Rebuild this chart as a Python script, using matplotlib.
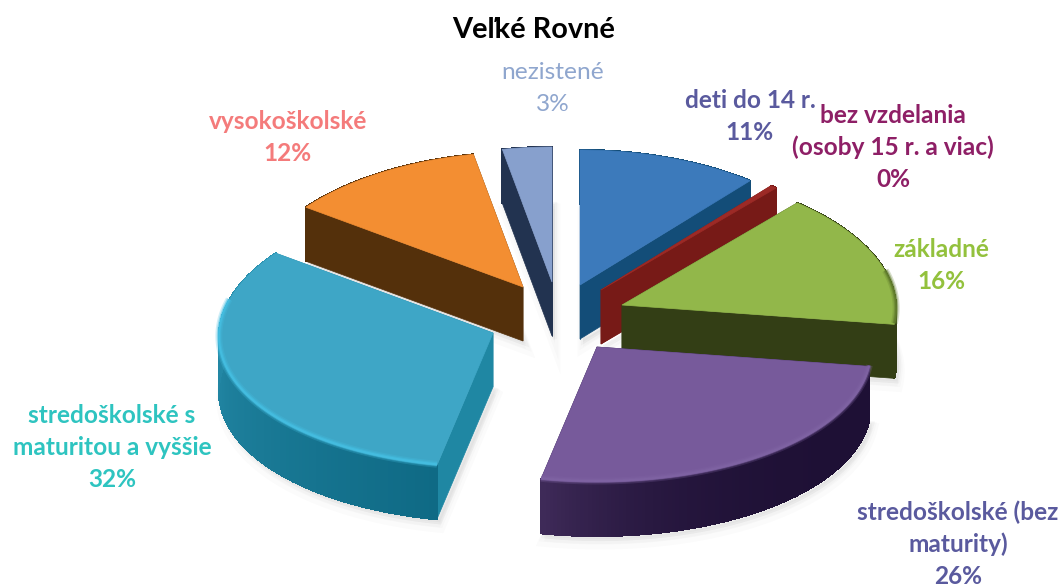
import numpy as np
import matplotlib
matplotlib.use('Agg')
import matplotlib.pyplot as plt
from matplotlib.collections import PolyCollection
from matplotlib.colors import to_rgb

plt.rcParams['font.family'] = ['Lato', 'DejaVu Sans']

title = 'Veľké Rovné'
names = ['deti do 14 r.', 'bez vzdelania\n(osoby 15 r. a viac)', 'základné',
         'stredoškolské (bez\nmaturity)', 'stredoškolské s\nmaturitou a vyššie',
         'vysokoškolské', 'nezistené']
shares = [11, 0.4, 16, 26, 32, 12, 3]

# colours of top, flat side, outer side (two ends), label
top_cols = ['#3c7abb', '#9c2a26', '#92b74a', '#775a9b', '#3ea6c6', '#f38e32', '#87a0cd']
side_cols = ['#134d78', '#771a17', '#333e15', '#2a1a45', '#1f87a3', '#54300b', '#223350']
arc_a = ['#134d78', '#771a17', '#333e15', '#1e1035', '#0f6a85', '#54300b', '#223350']
arc_b = ['#134d78', '#771a17', '#333e15', '#3e2a58', '#2a92b0', '#54300b', '#223350']
arc_pow = [1, 1, 1, 4, 1, 1, 1]
rim_cols = ['#3c7abb', '#c0504d', '#5f7a2c', '#7f63a3', '#45bfe2', '#f38e32', '#87a0cd']
text_cols = ['#5a5a9e', '#8e1f66', '#93c13d', '#5a5a9e', '#2ec4c0', '#f47b7b', '#8fa6ce']
# centre x and first baseline of each label
label_xy = [(750, 108), (893, 123), (941, 257), (958, 520), (112, 423), (288, 129), (553, 79)]
LINE_STEP = 32

# where each slice tip sits after exploding, in pixels
apex = [(580, 285), (601, 290), (622, 305), (597, 347), (493, 333), (523, 287), (552, 282)]
draw_order = [0, 1, 2, 5, 6, 4, 3]

RX, RY, DEPTH = 274, 135, 54

fig = plt.figure(figsize=(10.64, 5.86), dpi=100)
ax = fig.add_axes([0, 0, 1, 1])
ax.set_xlim(0, 1064)
ax.set_ylim(586, 0)
ax.axis('off')

edges = np.cumsum([0] + shares) / sum(shares) * 2 * np.pi


def outline(i, n=120):
    t = np.linspace(edges[i], edges[i + 1], n)
    # far side of the pie comes out a little narrower
    x = apex[i][0] + RX * np.sin(t) * (1 - 0.03 * np.cos(t))
    y = apex[i][1] - RY * np.cos(t)
    return t, x, y


# soft shadow below the pie
for i in draw_order:
    t, x, y = outline(i)
    px = np.r_[apex[i][0], x]
    py = np.r_[apex[i][1], y] + DEPTH
    for grow, al in [(8, 0.015), (5, 0.02), (3, 0.03)]:
        ax.fill(px + 3, py + grow, color='#303030', alpha=al, lw=grow, zorder=1)

for k, i in enumerate(draw_order):
    z = 2 + k
    t, x, y = outline(i)
    ax0, ay0 = apex[i]
    # flat sides
    for xe, ye in [(x[0], y[0]), (x[-1], y[-1])]:
        ax.fill([ax0, xe, xe, ax0], [ay0, ye, ye + DEPTH, ay0 + DEPTH],
                color=side_cols[i], lw=0.5, zorder=z)
    # outer side, shaded along the arc
    c0 = np.array(to_rgb(arc_a[i]))
    c1 = np.array(to_rgb(arc_b[i]))
    quads = []
    cols = []
    for j in range(len(t) - 1):
        quads.append([(x[j], y[j]), (x[j + 1], y[j + 1]),
                      (x[j + 1], y[j + 1] + DEPTH), (x[j], y[j] + DEPTH)])
        f = (j / (len(t) - 2)) ** arc_pow[i]
        cols.append(c0 + (c1 - c0) * f)
    ax.add_collection(PolyCollection(quads, facecolors=cols, edgecolors=cols, linewidths=0.8,
                                     antialiased=False, zorder=z))
    # top face and lit rim
    ax.fill(np.r_[ax0, x], np.r_[ay0, y], color=top_cols[i], lw=0.5, zorder=z)
    front = np.cos(t) < 0.25
    for w, al in [(5, 0.25), (3, 0.45), (1.5, 0.8)]:
        ax.plot(x[front], y[front] - 1, color=rim_cols[i], lw=w, alpha=al,
                solid_capstyle='butt', zorder=z)

ax.text(534, 30, title, fontsize=20.8, fontweight='bold', color='black',
        ha='center', va='center', zorder=20)

# one text per line so the line step follows the reference
for i, name in enumerate(names):
    lines = name.split('\n') + [f'{round(shares[i])}%']
    weight = 'normal' if i == 6 else 'bold'
    for n, line in enumerate(lines):
        ax.text(label_xy[i][0], label_xy[i][1] + n * LINE_STEP, line, fontsize=17.6,
                fontweight=weight, color=text_cols[i], ha='center', va='baseline', zorder=20)

fig.savefig('out.png', dpi=100, facecolor='white')
